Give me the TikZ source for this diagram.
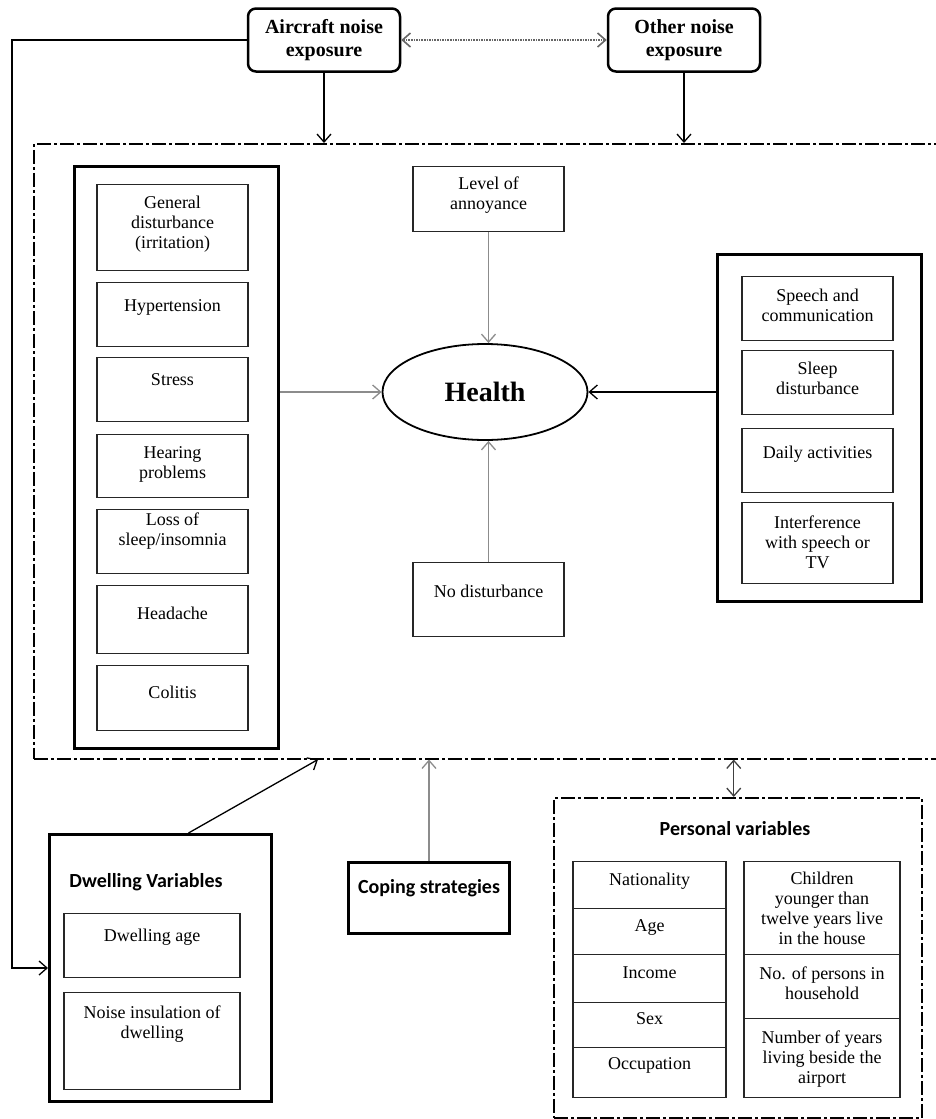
\documentclass[tikz,border=0pt]{standalone}
\usepackage{fontspec}
\setmainfont{Liberation Serif}
\newfontfamily\calib{Carlito}
\usetikzlibrary{positioning, arrows.meta, shapes.geometric}

\begin{document}
\begin{tikzpicture}[x=1pt, y=-1pt]
        % Styles
        \tikzstyle{cell} = [draw=black!85, line width=1.3pt, minimum width=151, anchor=north, inner sep=0pt]
        \tikzstyle{group} = [draw=black, line width=3pt, anchor=north west, inner sep=0pt]
        \tikzstyle{txt} = [align=center, inner sep=0pt, font=\fontsize{18}{20}\selectfont]
        \tikzstyle{head} = [align=center, inner sep=0pt, font=\calib\bfseries\fontsize{20}{22}\selectfont]
        \tikzstyle{expo} = [draw=black, line width=2.5pt, rounded corners=8pt, minimum width=152, minimum height=63, align=center, font=\bfseries\fontsize{20}{23}\selectfont]
        \tikzstyle{dashdot} = [draw=black, line width=1.5pt, dash pattern=on 14pt off 3pt on 3pt off 3pt, anchor=north west, inner sep=0pt]
        \tikzstyle{arrow} = [line width=1.3pt, -{Straight Barb[length=8pt, width=14pt]}]
        \tikzstyle{greyarrow} = [arrow, draw=black!45]

        \useasboundingbox (0,0) rectangle (935,1119);

        % Exposition
        \node (air) [expo] at (324,40) {Aircraft noise\\exposure};
        \node (oth) [expo] at (684,40) {Other noise\\exposure};

        % Cadre principal
        \node (frame) [dashdot, minimum width=920, minimum height=615] at (33,143) {};

        % Symptomes
        \node (sympt) [group, minimum width=204, minimum height=582] at (73,165) {};
        \node (gen) [cell, minimum height=86, label={[txt, below=12pt]north:General\\disturbance\\(irritation)}] at (172.5,184) {};
        \node (hyp) [cell, minimum height=64, label={[txt, below=17pt]north:Hypertension}] at (172.5,282) {};
        \node (stress) [cell, minimum height=64, label={[txt, below=16pt]north:Stress}] at (172.5,357) {};
        \node (hear) [cell, minimum height=63, label={[txt, below=12pt]north:Hearing\\problems}] at (172.5,434) {};
        \node (loss) [cell, minimum height=64, label={[txt, below=4pt]north:Loss of\\sleep/insomnia}] at (172.5,509) {};
        \node (headache) [cell, minimum height=68, label={[txt, below=22pt]north:Headache}] at (172.5,585) {};
        \node (colitis) [cell, minimum height=65, label={[txt, below=21pt]north:Colitis}] at (172.5,665) {};

        % Sante
        \node (health) [draw, ellipse, line width=1.8pt, minimum width=205, minimum height=96, font=\bfseries\fontsize{28}{30}\selectfont] at (485,392) {Health};
        \node (annoy) [cell, minimum height=65, label={[txt, below=11pt]north:Level of\\annoyance}] at (488.5,166) {};
        \node (nodist) [cell, minimum height=74, label={[txt, below=23pt]north:No disturbance}] at (488.5,562) {};

        % Interferences
        \node (effects) [group, minimum width=204, minimum height=347] at (716,253) {};
        \node (speech) [cell, minimum height=64, label={[txt, below=13pt]north:Speech and\\communication}] at (817.5,276) {};
        \node (sleep) [cell, minimum height=64, label={[txt, below=12pt]north:Sleep\\disturbance}] at (817.5,350) {};
        \node (daily) [cell, minimum height=64, label={[txt, below=18pt]north:Daily activities}] at (817.5,428) {};
        \node (inter) [cell, minimum height=81, label={[txt, below=14pt]north:Interference\\with speech or\\TV}] at (817.5,502) {};

        % Logement
        \node (dwel) [group, minimum width=222, minimum height=267] at (48,833) {};
        \node (dweltitle) [head] at (146,882) {Dwelling Variables};
        \node (dwage) [cell, minimum width=176, minimum height=64, label={[txt, below=16pt]north:Dwelling age}] at (152,913) {};
        \node (dwins) [cell, minimum width=176, minimum height=97, label={[txt, below=14pt]north:Noise insulation of\\dwelling}] at (152,992) {};

        % Strategies
        \node (coping) [group, minimum width=161, minimum height=71, label={[head, below=18pt]north:Coping strategies}] at (347,861) {};

        % Variables personnelles
        \node (pers) [dashdot, minimum width=368, minimum height=320] at (553,797) {};
        \node (perstitle) [head] at (735,829) {Personal variables};
        \node (nat) [cell, minimum width=153, minimum height=47, label={[txt, below=12pt]north:Nationality}] at (649.5,861) {};
        \node (age) [cell, minimum width=153, minimum height=46, label={[txt, below=11pt]north:Age}] at (649.5,908) {};
        \node (income) [cell, minimum width=153, minimum height=48, label={[txt, below=13pt]north:Income}] at (649.5,954) {};
        \node (sex) [cell, minimum width=153, minimum height=45, label={[txt, below=10pt]north:Sex}] at (649.5,1002) {};
        \node (occup) [cell, minimum width=153, minimum height=50, label={[txt, below=10pt]north:Occupation}] at (649.5,1047) {};
        \node (child) [cell, minimum width=156, minimum height=93, label={[txt, below=11pt]north:Children\\younger than\\twelve years live\\in the house}] at (822,861) {};
        \node (npers) [cell, minimum width=156, minimum height=64, label={[txt, below=13pt]north:No. of persons in\\household}] at (822,954) {};
        \node (nyears) [cell, minimum width=156, minimum height=79, label={[txt, below=13pt]north:Number of years\\living beside the\\airport}] at (822,1018) {};

        % Fleches
        \coordinate (bend) at (12,40);
        \draw [arrow] (air.west) -- (bend) |- (dwel.west);
        \draw [line width=1.6pt, draw=black!60, densely dotted, {Straight Barb[length=8pt, width=14pt]}-{Straight Barb[length=8pt, width=14pt]}] (air) -- (oth);
        \draw [arrow] (air.south) -- (air.south |- frame.north);
        \draw [arrow] (oth.south) -- (oth.south |- frame.north);
        \draw [greyarrow] (annoy.south) -- (annoy.south |- health.north);
        \draw [greyarrow] (nodist.north) -- (nodist.north |- health.south);
        \draw [greyarrow] (sympt.east |- health) -- (health.west);
        \draw [arrow] (effects.west |- health) -- (health.east);
        \draw [arrow] ([xshift=28pt]dwel.north) -- ([xshift=285pt]frame.south west);
        \draw [greyarrow] (coping.north) -- (coping.north |- frame.south);
        \draw [arrow, draw=black!75, {Straight Barb[length=8pt, width=14pt]}-{Straight Barb[length=8pt, width=14pt]}] ([xshift=-4pt]pers.north) -- ([xshift=-4pt]pers.north |- frame.south);
    \end{tikzpicture}
\end{document}
